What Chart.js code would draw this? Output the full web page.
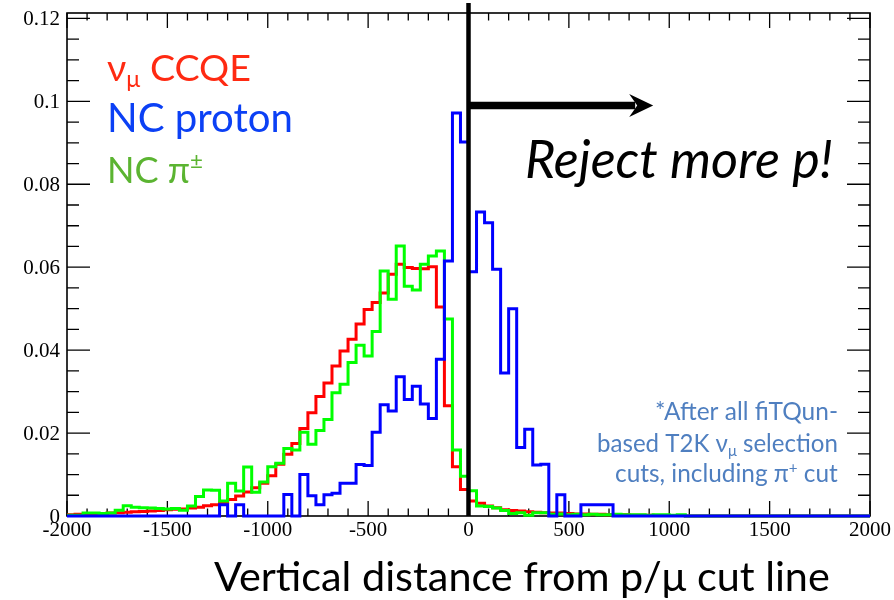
<!DOCTYPE html>
<html><head><meta charset="utf-8">
<script src="https://cdn.jsdelivr.net/npm/chart.js@4/dist/chart.umd.min.js"></script>
<style>html,body{margin:0;padding:0;background:#fff;}#wrap{width:894px;height:600px;position:relative;}</style>
</head><body><div id="wrap"><canvas id="c" width="894" height="600"></canvas></div>
<script>
// ---- data (bin left edges, width 40) ----
const binLeftEdges = [-2000,-1960,-1920,-1880,-1840,-1800,-1760,-1720,-1680,-1640,-1600,-1560,-1520,-1480,-1440,-1400,-1360,-1320,-1280,-1240,-1200,-1160,-1120,-1080,-1040,-1000,-960,-920,-880,-840,-800,-760,-720,-680,-640,-600,-560,-520,-480,-440,-400,-360,-320,-280,-240,-200,-160,-120,-80,-40,0,40,80,120,160,200,240,280,320,360,400,440,480,520,560,600,640,680,720,760,800,840,880,920,960,1000,1040,1080,1120,1160,1200,1240,1280,1320,1360,1400,1440,1480,1520,1560,1600,1640,1680,1720,1760,1800,1840,1880,1920,1960];
const binRightEdge = 2000;
const numuCCQE = [0.0003,0.0004,0.0004,0.0005,0.0006,0.0007,0.0008,0.0009,0.0010,0.0011,0.0012,0.0013,0.0015,0.0016,0.0017,0.0019,0.0021,0.0025,0.0027,0.0032,0.0040,0.0048,0.0058,0.0068,0.0079,0.0097,0.0125,0.0149,0.0175,0.0211,0.0249,0.0288,0.0321,0.0362,0.0398,0.0426,0.0463,0.0498,0.0515,0.0538,0.0583,0.0607,0.0599,0.0597,0.0596,0.0601,0.0504,0.0266,0.0119,0.0064,0.0036,0.0031,0.0024,0.0020,0.0015,0.0013,0.0012,0.0010,0.0009,0.0008,0.0007,0.0007,0.0006,0.0005,0.0005,0.0004,0.0004,0.0003,0.0003,0.0003,0.0002,0.0002,0.0002,0.0001,0.0001,0.0001,0.0001,0,0,0,0,0,0,0,0,0,0,0,0,0,0,0,0,0,0,0,0,0,0,0];
const ncPion = [0.0002,0.0002,0.0007,0.0007,0.0006,0.0007,0.0014,0.0025,0.0021,0.0020,0.0019,0.0018,0.0017,0.0018,0.0014,0.0024,0.0047,0.0063,0.0062,0.0036,0.0079,0.0060,0.0118,0.0057,0.0082,0.0119,0.0127,0.0163,0.0159,0.0202,0.0173,0.0206,0.0233,0.0297,0.0318,0.0370,0.0412,0.0386,0.0445,0.0591,0.0523,0.0651,0.0554,0.0545,0.0607,0.0627,0.0639,0.0475,0.0159,0.0096,0.0061,0.0024,0.0023,0.0019,0.0013,0.0006,0.0008,0.0002,0.0008,0.0008,0.0004,0.0005,0.0003,0.0004,0.0003,0.0004,0.0003,0.0003,0.0004,0.0003,0.0003,0.0003,0.0002,0.0003,0.0003,0.0002,0.0003,0,0,0,0,0,0,0,0,0,0,0,0,0,0,0,0,0,0,0,0,0,0,0];
const ncProton = [0,0,0,0,0,0,0,0,0,0,0,0,0,0,0,0,0,0,0,0.0027,0,0.0027,0,0,0,0,0,0.0052,0,0.0100,0.0049,0.0027,0.0051,0.0055,0.0079,0.0079,0.0124,0.0122,0.0202,0.0268,0.0253,0.0336,0.0281,0.0313,0.0270,0.0235,0.0378,0.0615,0.0972,0.0902,0.0589,0.0733,0.0707,0.0595,0.0345,0.0500,0.0165,0.0209,0.0123,0.0125,0,0.0051,0,0,0.0027,0.0027,0.0027,0.0027,0,0,0,0,0,0,0,0,0,0,0,0,0,0,0,0,0,0,0,0,0,0,0,0,0,0,0,0,0,0,0,0];
const cutValue = 0;
const xTickValues = [-2000,-1500,-1000,-500,0,500,1000,1500,2000];
const xTickLabels = ['-2000','-1500','-1000','-500','0','500','1000','1500','2000'];
const yTickValues = [0,0.02,0.04,0.06,0.08,0.1,0.12];
const yTickLabels = ['0','0.02','0.04','0.06','0.08','0.1','0.12'];

function histPoints(vals){
  const pts = binLeftEdges.map((e,i)=>({x:e,y:vals[i]}));
  pts.push({x:binRightEdge,y:vals[vals.length-1]});
  return pts;
}

const SANS = 'Lato, "Open Sans", sans-serif';
// rich text: parts [{t, mode:'sub'|'sup'|undefined}]
function richWidth(ctx, parts, size, style){
  let w=0;
  for(const p of parts){
    const s = p.mode ? size*0.62 : size;
    ctx.font = style+' '+s+'px '+SANS;
    w += ctx.measureText(p.t).width;
  }
  return w;
}
function drawRich(ctx, parts, x, y, targetW, style, color, align){
  const w100 = richWidth(ctx, parts, 100, style);
  const size = 100*targetW/w100;
  let cx = align==='right' ? x - targetW : x;
  ctx.fillStyle = color; ctx.textAlign='left'; ctx.textBaseline='alphabetic';
  for(const p of parts){
    const s = p.mode ? size*0.62 : size;
    ctx.font = style+' '+s+'px '+SANS;
    let dy = 0;
    if(p.mode==='sub') dy = size*0.17;
    if(p.mode==='sup') dy = -size*0.38;
    ctx.fillText(p.t, cx, y+dy);
    cx += ctx.measureText(p.t).width;
  }
}

const framePlugin = {
  id:'frame',
  beforeDatasetsDraw(chart){
    const {ctx, chartArea:a, scales:{x,y}} = chart;
    ctx.save();
    ctx.strokeStyle='#000'; ctx.lineWidth=1.6;
    ctx.strokeRect(a.left, a.top, a.right-a.left, a.bottom-a.top);
    ctx.lineWidth=1.3;
    ctx.beginPath();
    for(let v=-2000; v<=2000; v+=100){
      const px = x.getPixelForValue(v);
      const L = (v%500===0)?15:7.5;
      ctx.moveTo(px,a.bottom); ctx.lineTo(px,a.bottom-L);
      ctx.moveTo(px,a.top); ctx.lineTo(px,a.top+L);
    }
    for(let k=0; k<=24; k++){
      const v = k*0.005;
      const py = y.getPixelForValue(v);
      const L = (k%4===0)?23:12;
      ctx.moveTo(a.left,py); ctx.lineTo(a.left+L,py);
      ctx.moveTo(a.right,py); ctx.lineTo(a.right-L,py);
    }
    ctx.stroke();
    // tick labels
    ctx.fillStyle='#000';
    ctx.font='21px "Liberation Serif", "DejaVu Serif", serif';
    ctx.textBaseline='alphabetic';
    ctx.textAlign='center';
    xTickValues.forEach((v,i)=>ctx.fillText(xTickLabels[i], x.getPixelForValue(v), 536));
    ctx.textAlign='right';
    yTickValues.forEach((v,i)=>ctx.fillText(yTickLabels[i], 60, y.getPixelForValue(v)+7));
    ctx.restore();
  },
  afterDatasetsDraw(chart){
    const {ctx, chartArea:a, scales:{x,y}} = chart;
    ctx.save();
    // cut line
    const cx = x.getPixelForValue(cutValue);
    ctx.strokeStyle='#000'; ctx.lineWidth=4.5;
    ctx.beginPath(); ctx.moveTo(cx,3); ctx.lineTo(cx,a.bottom); ctx.stroke();
    // arrow
    const ay = 105.5, tip = x.getPixelForValue(920);
    ctx.lineWidth=7.5;
    ctx.beginPath(); ctx.moveTo(cx,ay); ctx.lineTo(tip-18,ay); ctx.stroke();
    ctx.fillStyle='#000';
    ctx.beginPath();
    ctx.moveTo(tip,ay); ctx.lineTo(tip-24,ay-11.5); ctx.lineTo(tip-16,ay); ctx.lineTo(tip-24,ay+11.5); ctx.closePath(); ctx.fill();
    // legend texts
    drawRich(ctx,[{t:'ν'},{t:'μ',mode:'sub'},{t:' CCQE'}],107,81,144,'normal','#ff2a12','left');
    drawRich(ctx,[{t:'NC proton'}],107,132,186,'normal','#0b40f5','left');
    drawRich(ctx,[{t:'NC π'},{t:'±',mode:'sup'}],107,183,96,'normal','#5bb431','left');
    drawRich(ctx,[{t:'Reject more p!'}],525,178,308,'italic','#000','left');
    const fc = '#4f7fc0';
    drawRich(ctx,[{t:'*After all fiTQun-'}],838,420,183,'normal',fc,'right');
    drawRich(ctx,[{t:'based T2K ν'},{t:'μ',mode:'sub'},{t:' selection'}],838,452,241,'normal',fc,'right');
    drawRich(ctx,[{t:'cuts, including π'},{t:'+',mode:'sup'},{t:' cut'}],838,482,223,'normal',fc,'right');
    drawRich(ctx,[{t:'Vertical distance from p/μ cut line'}],830,591,616,'normal','#000','right');
    ctx.restore();
  }
};

const ds = (label, vals, color) => ({
  label, data: histPoints(vals), borderColor: color, borderWidth: 3,
  stepped: true, pointRadius: 0, fill: false, tension: 0,
  borderJoinStyle: 'miter', borderCapStyle: 'butt', clip: 6
});

new Chart(document.getElementById('c'), {
  type: 'line',
  data: { datasets: [
    ds('NC proton', ncProton, '#0000ff'),
    ds('NC π±', ncPion, '#00ff00'),
    ds('νμ CCQE', numuCCQE, '#ff0000')
  ]},
  options: {
    responsive: false, animation: false, devicePixelRatio: 1,
    layout: { padding: { left: 67, top: 13, right: 24, bottom: 84 } },
    plugins: { legend: { display: false }, tooltip: { enabled: false } },
    scales: {
      x: { type: 'linear', min: -2000, max: 2000, display: false },
      y: { type: 'linear', min: 0, max: 0.1213, display: false }
    }
  },
  plugins: [framePlugin]
});
</script>
</body></html>
